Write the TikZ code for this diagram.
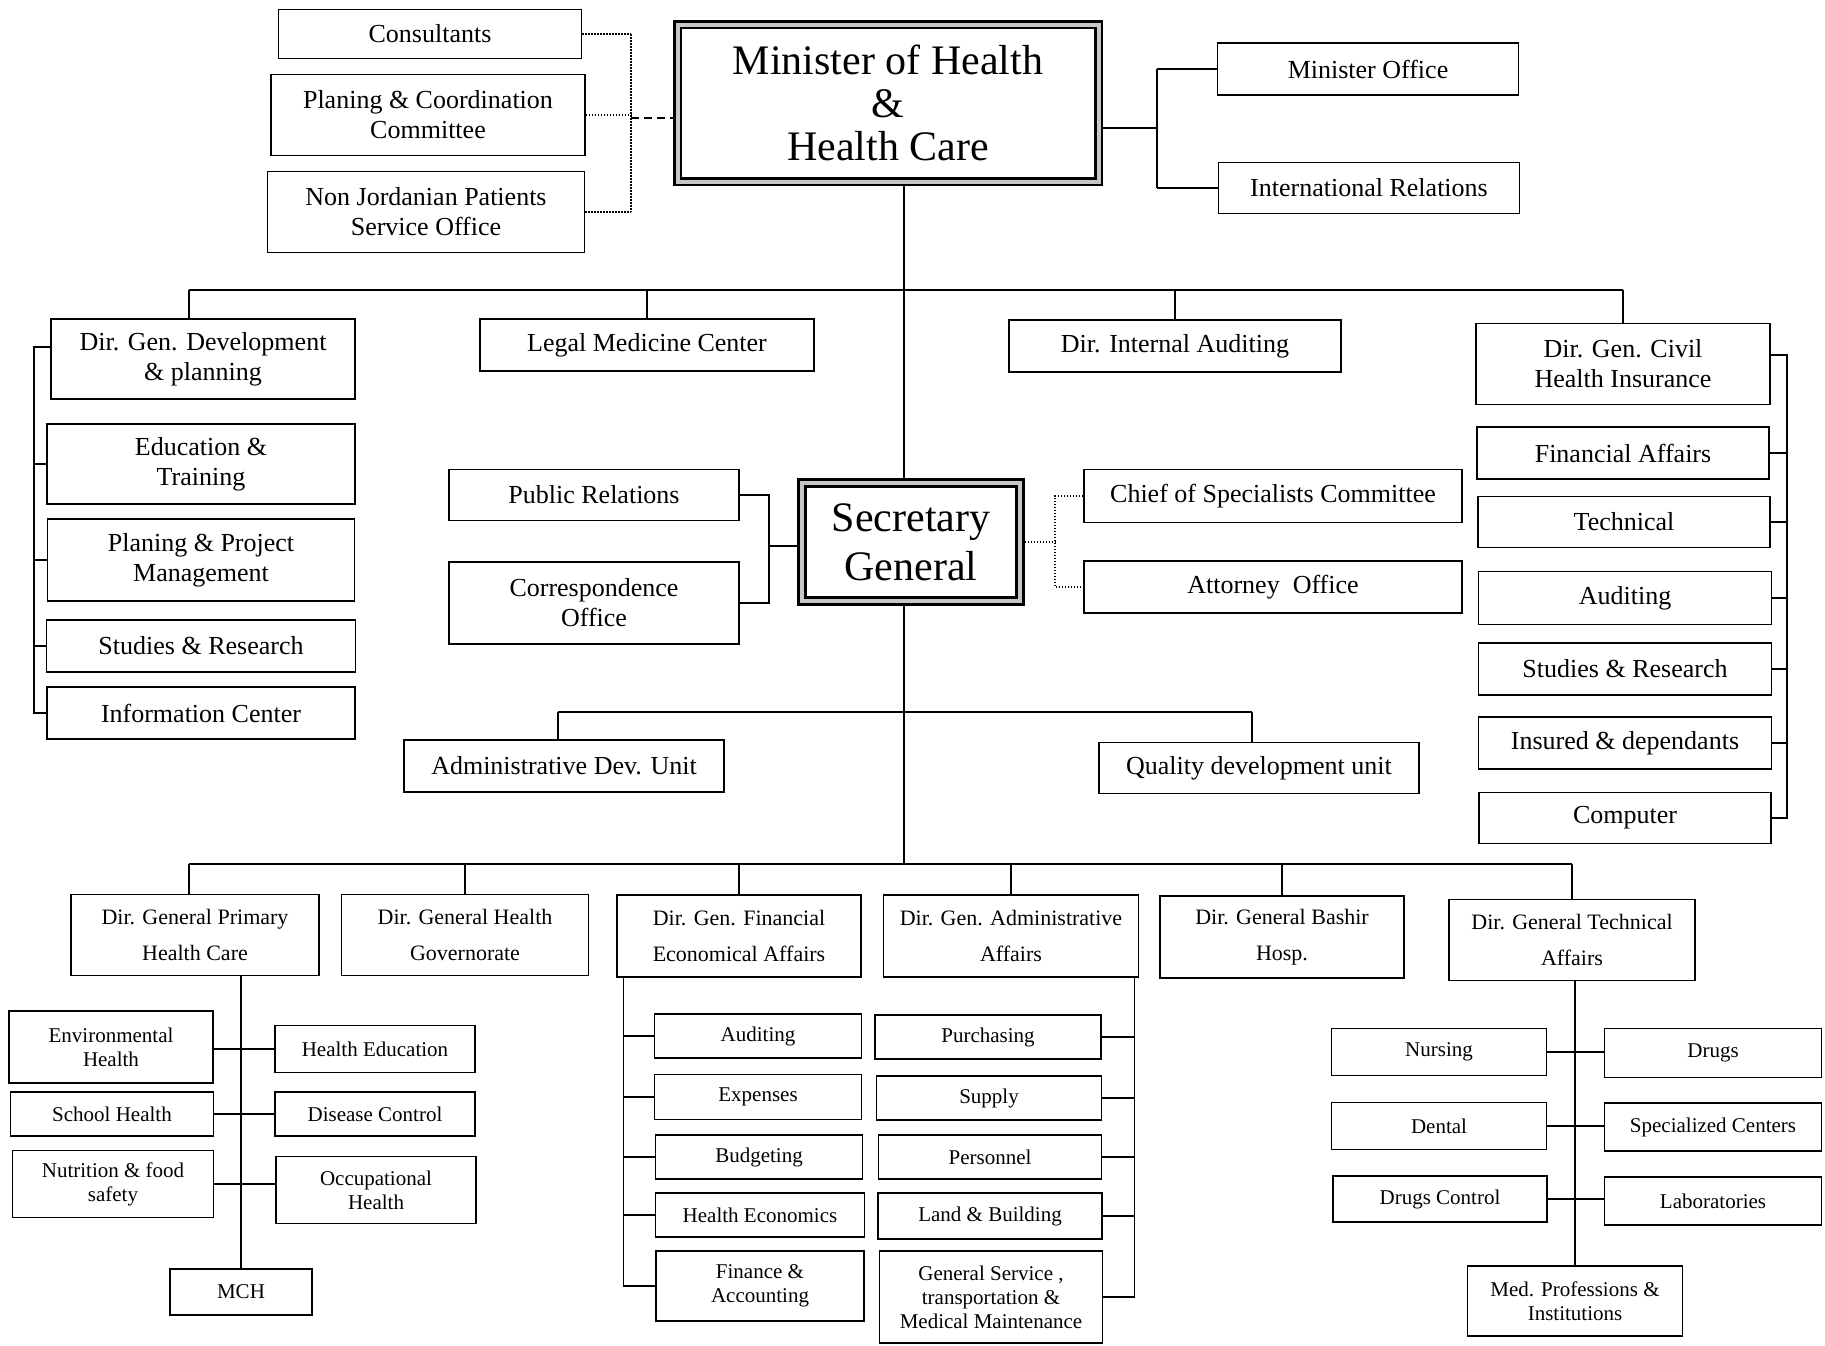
\documentclass[tikz,border=0pt]{standalone}
\usepackage{fontspec}
\setmainfont{Liberation Serif}
\usetikzlibrary{calc}

\begin{document}
\begin{tikzpicture}[
    x=1pt, y=-1pt,
    sz/.style 2 args={minimum width=#1pt, minimum height=#2pt},
    box/.style={rectangle, draw=black, line width=1.6pt, inner sep=2pt, align=center},
    chief/.style={
        rectangle, draw=black, line width=2.6pt, double=gray!45, double distance=4pt,
        outer sep=4.6pt, inner sep=4pt, align=center,
        font=\fontsize{42}{43}\selectfont
    },
    unit/.style={box, font=\fontsize{26}{30}\selectfont},
    dirgen/.style={box, font=\fontsize{22}{36}\selectfont},
    subunit/.style={box, font=\fontsize{21}{24}\selectfont},
    link/.style={draw=black, line width=1.4pt},
    aide/.style={draw=black, line width=1.4pt, dash pattern=on 1.5pt off 1.5pt},
    liaison/.style={draw=black, line width=2.4pt, dash pattern=on 8pt off 5pt}
]
\useasboundingbox (0,0) rectangle (1825,1345);
\fill[white] (0,0) rectangle (1825,1345);

%% ---- Minister level ----
\node[chief, sz={421}{157}] (minister) at (888,103) {Minister of Health\\\&\\Health Care};

% advisers (dotted)
\node[unit, sz={303}{49}] (consult) at (430,34) {Consultants};
\node[unit, sz={314}{81}] (plancoord) at (428,115) {Planing \& Coordination\\Committee};
\node[unit, sz={317}{81}] (nonjord) at (426,212) {Non Jordanian Patients\\Service Office};

% minister office
\node[unit, sz={301}{52}] (moff) at (1368,69) {Minister Office};
\node[unit, sz={301}{51}] (intrel) at (1369,188) {International Relations};

%% ---- Row 1: directorates under the minister ----
\node[unit, sz={304}{80}] (devplan) at (203,359) {Dir. Gen. Development\\\& planning};
\node[unit, sz={334}{52}] (legal) at (647,345) {Legal Medicine Center};
\node[unit, sz={332}{52}] (intaud) at (1175,346) {Dir. Internal Auditing};
\node[unit, sz={294}{81}] (civil) at (1623,364) {Dir. Gen. Civil\\Health Insurance};

% development & planning
\node[unit, sz={308}{80}] (edutrain) at (201,464) {Education \&\\Training};
\node[unit, sz={307}{82}] (projmgmt) at (201,560) {Planing \& Project\\Management};
\node[unit, sz={309}{52}] (studdev) at (201,646) {Studies \& Research};
\node[unit, sz={308}{52}] (infocen) at (201,713) {Information Center};

% civil health insurance
\node[unit, sz={292}{52}] (finaff) at (1623,453) {Financial Affairs};
\node[unit, sz={292}{51}] (technical) at (1624,522) {Technical};
\node[unit, sz={293}{53}] (audcivil) at (1625,598) {Auditing};
\node[unit, sz={293}{52}] (studcivil) at (1625,669) {Studies \& Research};
\node[unit, sz={293}{52}] (insured) at (1625,743) {Insured \& dependants};
\node[unit, sz={292}{51}] (computer) at (1625,818) {Computer};

%% ---- Secretary General ----
\node[chief, sz={218}{118}] (secgen) at (911,542) {Secretary\\[6pt]General};

\node[unit, sz={290}{51}] (pubrel) at (594,495) {Public Relations};
\node[unit, sz={290}{82}] (corresp) at (594,603) {Correspondence\\Office};
\node[unit, sz={378}{53}] (chiefspec) at (1273,496) {Chief of Specialists Committee};
\node[unit, sz={378}{52}] (attorney) at (1273,587) {Attorney\ \ Office};

\node[unit, sz={320}{52}] (admdev) at (564,766) {Administrative Dev. Unit};
\node[unit, sz={320}{51}] (quality) at (1259,768) {Quality development unit};

%% ---- Row 2: directorates under the secretary ----
\node[dirgen, sz={248}{81}] (dgphc) at (195,935) {Dir. General Primary\\Health Care};
\node[dirgen, sz={247}{81}] (dghg) at (465,935) {Dir. General Health\\Governorate};
\node[dirgen, sz={244}{82}] (dgfin) at (739,936) {Dir. Gen. Financial\\Economical Affairs};
\node[dirgen, sz={255}{82}] (dgadm) at (1011,936) {Dir. Gen. Administrative\\Affairs};
\node[dirgen, sz={244}{82}] (dgbash) at (1282,937) {Dir. General Bashir\\Hosp.};
\node[dirgen, sz={246}{81}] (dgtech) at (1572,940) {Dir. General Technical\\Affairs};

% primary health care
\node[subunit, sz={204}{72}] (envh) at (111,1047) {Environmental\\Health};
\node[subunit, sz={203}{44}] (schoolh) at (112,1114) {School Health};
\node[subunit, sz={201}{67}] (nutri) at (113,1184) {Nutrition \& food\\safety};
\node[subunit, sz={200}{47}] (heduc) at (375,1049) {Health Education};
\node[subunit, sz={200}{44}] (disease) at (375,1114) {Disease Control};
\node[subunit, sz={200}{67}] (occup) at (376,1190) {Occupational\\Health};
\node[subunit, sz={142}{46}] (mch) at (241,1292) {MCH};

% financial
\node[subunit, sz={207}{44}] (faud) at (758,1036) {Auditing};
\node[subunit, sz={207}{45}] (fexp) at (758,1097) {Expenses};
\node[subunit, sz={207}{44}] (fbud) at (759,1157) {Budgeting};
\node[subunit, sz={209}{44}] (fheco) at (760,1215) {Health Economics};
\node[subunit, sz={208}{70}] (facc) at (760,1286) {Finance \&\\Accounting};

% administrative
\node[subunit, sz={226}{44}] (apurch) at (988,1037) {Purchasing};
\node[subunit, sz={225}{44}] (asupply) at (989,1098) {Supply};
\node[subunit, sz={223}{44}] (aperson) at (990,1157) {Personnel};
\node[subunit, sz={224}{46}] (aland) at (990,1216) {Land \& Building};
\node[subunit, sz={223}{92}] (agen) at (991,1297) {General Service ,\\transportation \&\\Medical Maintenance};

% technical affairs
\node[subunit, sz={215}{47}] (nursing) at (1439,1052) {Nursing};
\node[subunit, sz={215}{47}] (dental) at (1439,1126) {Dental};
\node[subunit, sz={214}{46}] (drugctl) at (1440,1199) {Drugs Control};
\node[subunit, sz={217}{49}] (drugs) at (1713,1053) {Drugs};
\node[subunit, sz={217}{48}] (speccen) at (1713,1127) {Specialized Centers};
\node[subunit, sz={217}{48}] (labs) at (1713,1201) {Laboratories};
\node[subunit, sz={215}{70}] (medprof) at (1575,1301) {Med. Professions \&\\Institutions};

%% ---- Connectors ----
\coordinate (advj) at (631,118);
\coordinate (minj) at (1157,128);
\coordinate (bus1) at (904,290);
\coordinate (bus2) at (904,712);
\coordinate (bus3) at (904,864);
\coordinate (lspine) at (34,347);
\coordinate (rspine) at (1787,355);
\coordinate (secL) at (769,546);
\coordinate (secR) at (1055,542);
\coordinate (devdrop) at ([xshift=-14pt]devplan.north);
\coordinate (phcdrop) at ([xshift=-6pt]dgphc.north);
\coordinate (admdrop) at ([xshift=-6pt]admdev.north);
\coordinate (qualdrop) at ([xshift=-7pt]quality.north);
\coordinate (finspine) at ([xshift=7pt]dgfin.south west);
\coordinate (admspine) at ([xshift=-5pt]dgadm.south east);

% advisers
\foreach \n in {consult, plancoord, nonjord}
    \draw[aide] (\n.east) -- (\n.east -| advj);
\draw[aide] (advj |- consult.east) -- (advj |- nonjord.east);
\draw[liaison] (advj) -- (advj -| minister.west);

% minister office
\draw[link] (minj -| minister.east) -- (minj);
\draw[link] (minj |- moff.west) -- (minj |- intrel.west);
\foreach \n in {moff, intrel}
    \draw[link] (\n.west) -- (\n.west -| minj);

% trunk
\draw[link] (minister.south -| bus1) -- (secgen.north -| bus1);
\draw[link] (secgen.south -| bus1) -- (bus3);

% row 1 bus
\draw[link] (devdrop |- bus1) -- (civil.north |- bus1);
\draw[link] (devdrop |- bus1) -- (devdrop);
\foreach \n in {legal, intaud, civil}
    \draw[link] (\n.north |- bus1) -- (\n.north);

% brackets
\draw[link] ([yshift=12pt]devplan.west) -- (lspine) |- (infocen.west);
\foreach \n in {edutrain, projmgmt, studdev}
    \draw[link] (\n.west) -- (\n.west -| lspine);
\draw[link] ([yshift=9pt]civil.east) -- (rspine) |- (computer.east);
\foreach \n in {finaff, technical, audcivil, studcivil, insured}
    \draw[link] (\n.east) -- (\n.east -| rspine);

% secretary offices
\draw[link] (pubrel.east) -- (pubrel.east -| secL) -- (corresp.east -| secL) -- (corresp.east);
\draw[link] (secL) -- (secL -| secgen.west);
\draw[aide] (secgen.east |- secR) -- (secR);
\draw[aide] (chiefspec.west) -- (chiefspec.west -| secR) -- (attorney.west -| secR) -- (attorney.west);

% units bus
\draw[link] (admdrop |- bus2) -- (qualdrop |- bus2);
\draw[link] (admdrop |- bus2) -- (admdrop);
\draw[link] (qualdrop |- bus2) -- (qualdrop);

% row 2 bus
\draw[link] (phcdrop |- bus3) -- (dgtech.north |- bus3);
\draw[link] (phcdrop |- bus3) -- (phcdrop);
\foreach \n in {dghg, dgfin, dgadm, dgbash, dgtech}
    \draw[link] (\n.north |- bus3) -- (\n.north);

% primary health care
\draw[link] (mch.north |- dgphc.south) -- (mch.north);
\draw[link] (heduc.west -| envh.east) -- (heduc.west);
\draw[link] (schoolh.east) -- (schoolh.east -| disease.west);
\draw[link] (nutri.east) -- (nutri.east -| occup.west);

% financial
\draw[link] (finspine) |- (facc.west);
\foreach \n in {faud, fexp, fbud, fheco}
    \draw[link] (\n.west -| finspine) -- (\n.west);

% administrative
\draw[link] (admspine) |- (agen.east);
\foreach \n in {apurch, asupply, aperson, aland}
    \draw[link] (\n.east) -- (\n.east -| admspine);

% technical affairs
\draw[link] (medprof.north |- dgtech.south) -- (medprof.north);
\draw[link] (nursing.east) -- (nursing.east -| drugs.west);
\draw[link] (dental.east) -- (dental.east -| speccen.west);
\draw[link] (drugctl.east) -- (drugctl.east -| labs.west);

\end{tikzpicture}
\end{document}
